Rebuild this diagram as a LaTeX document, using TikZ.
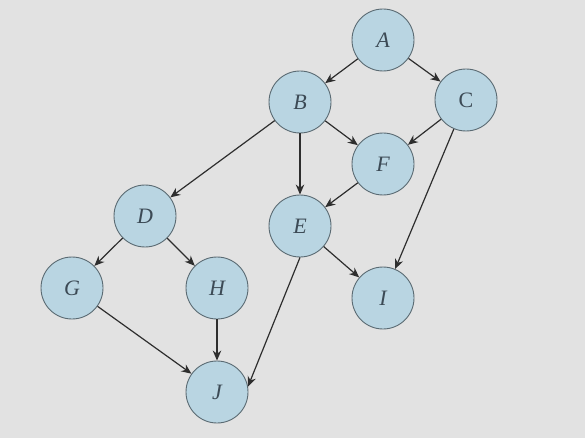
\documentclass[tikz,border=0pt]{standalone}
\usepackage{fontspec}
\setmainfont{Liberation Serif}
\usetikzlibrary{arrows.meta}
\definecolor{bg}{HTML}{E2E2E2}
\definecolor{nodefill}{HTML}{B9D5E2}
\definecolor{nodeline}{HTML}{5A6A72}
\definecolor{edgecol}{HTML}{2E2E2E}
\definecolor{txt}{HTML}{3C4A55}
\tikzset{
  vert/.style={circle, draw=nodeline, fill=nodefill, line width=0.9pt,
    minimum size=62pt, inner sep=0pt, text=txt, font=\fontsize{22}{22}\selectfont\itshape},
  edge/.style={draw=edgecol, line width=1.2pt, -{Stealth[length=10pt,width=8.5pt]}}
}
\begin{document}
\begin{tikzpicture}[x=1pt,y=-1pt]
\fill[bg] (0,0) rectangle (585,438);
\useasboundingbox (0,0) rectangle (585,438);
\node[vert] (A) at (383,40) {A};
\node[vert] (B) at (300,102) {B};
\node[vert,font=\fontsize{22}{22}\selectfont] (C) at (466,100) {C};
\node[vert] (F) at (383,164) {F};
\node[vert] (E) at (300,226) {E};
\node[vert] (I) at (383,298) {I};
\node[vert] (D) at (145,216) {D};
\node[vert] (G) at (72,288) {G};
\node[vert] (H) at (217,288) {H};
\node[vert] (J) at (217,392) {J};
\draw[edge] (A) -- (B);
\draw[edge] (A) -- (C);
\draw[edge] (B) -- (F);
\draw[edge] (B) -- (E);
\draw[edge] (B) -- (D);
\draw[edge] (C) -- (F);
\draw[edge] (C) -- (I);
\draw[edge] (F) -- (E);
\draw[edge] (E) -- (I);
\draw[edge] (E.south) -- (J.10);
\draw[edge] (D) -- (G);
\draw[edge] (D) -- (H);
\draw[edge] (G) -- (J);
\draw[edge] (H) -- (J);
\end{tikzpicture}
\end{document}
